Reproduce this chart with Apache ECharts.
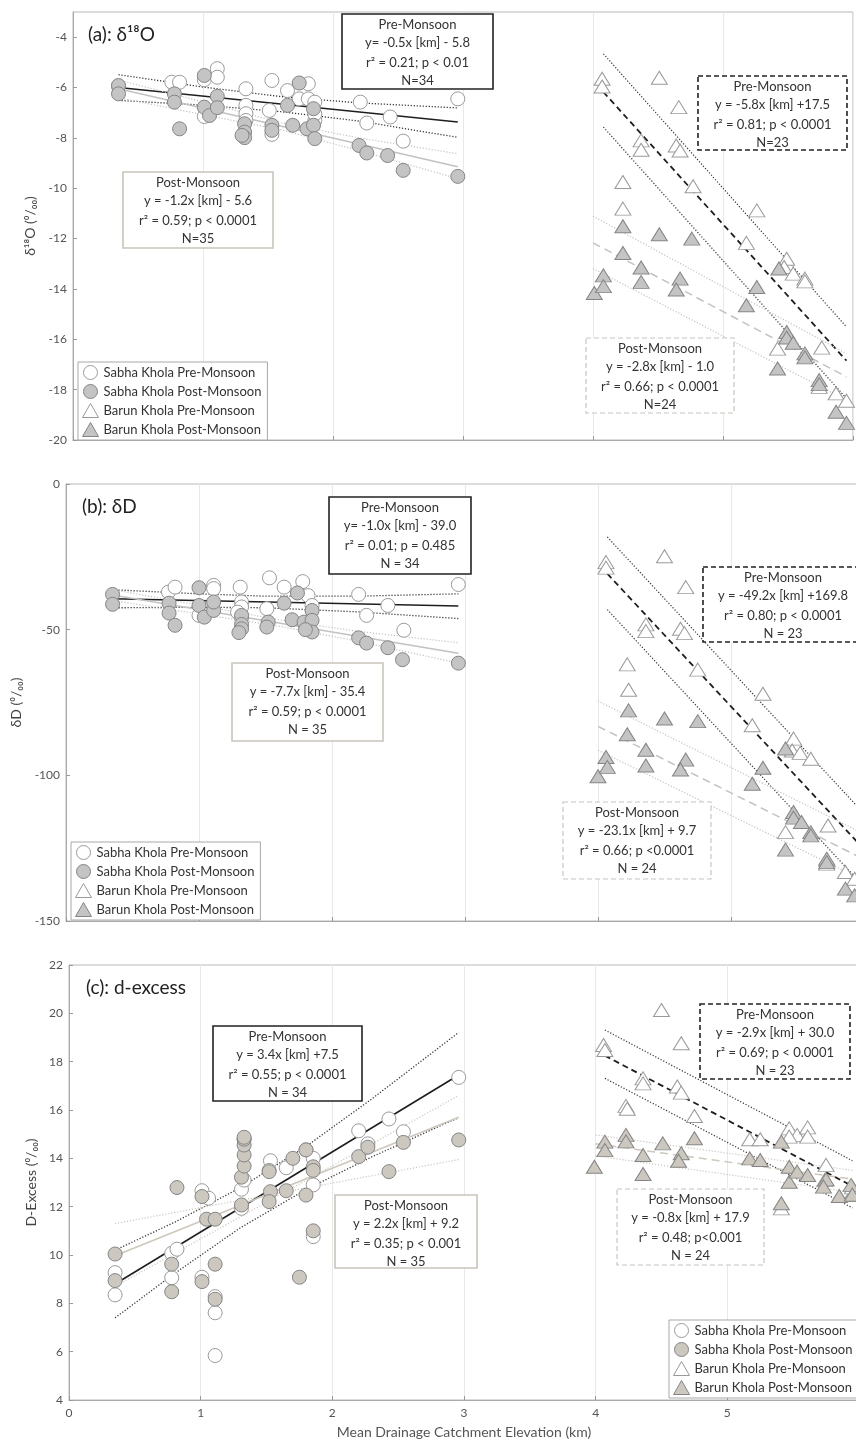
<!DOCTYPE html>
<html><head><meta charset="utf-8">
<script src="https://cdn.jsdelivr.net/npm/echarts@6/dist/echarts.min.js"></script>
<style>html,body{margin:0;padding:0;background:#fff}#c{width:856px;height:1440px}</style>
</head><body><div id="c"></div>
<script>
// ---------------- DATA ----------------
const xTicks = [0,1,2,3,4,5,6];
const seriesNames = ['Sabha Khola Pre-Monsoon','Sabha Khola Post-Monsoon','Barun Khola Pre-Monsoon','Barun Khola Post-Monsoon'];

// Panel (a) δ18O
const aSabhaPre = [[0.35,-5.95],[0.76,-5.79],[0.82,-5.79],[1.01,-5.69],[1.02,-7.04],[1.01,-7.15],[1.11,-5.25],[1.11,-5.59],[1.33,-6.05],[1.33,-6.71],[1.33,-7.04],[1.33,-7.31],[1.53,-5.72],[1.51,-6.91],[1.53,-7.86],[1.65,-6.12],[1.74,-6.45],[1.81,-5.85],[1.81,-6.45],[1.86,-6.58],[1.86,-7.31],[1.86,-7.05],[2.21,-6.58],[2.26,-7.41],[2.44,-7.17],[2.54,-8.13],[2.96,-6.45]];
const aSabhaPost = [[0.35,-5.92],[0.35,-6.25],[0.78,-6.25],[0.78,-6.58],[0.82,-7.64],[1.01,-5.52],[1.01,-6.78],[1.05,-7.11],[1.11,-6.35],[1.11,-6.80],[1.32,-7.44],[1.32,-7.77],[1.32,-7.99],[1.30,-7.90],[1.53,-7.50],[1.53,-7.70],[1.65,-6.71],[1.69,-7.50],[1.74,-5.82],[1.80,-7.64],[1.85,-6.84],[1.85,-7.50],[1.86,-8.03],[2.20,-8.30],[2.26,-8.60],[2.42,-8.70],[2.54,-9.29],[2.96,-9.53]];
const aBarunPre = [[4.07,-5.65],[4.07,-5.96],[4.51,-5.61],[4.66,-6.78],[4.37,-8.10],[4.37,-8.47],[4.64,-8.30],[4.67,-8.50],[4.77,-9.92],[4.23,-9.75],[4.23,-10.81],[5.26,-10.88],[5.18,-12.17],[5.49,-12.80],[5.47,-13.13],[5.54,-13.39],[5.63,-13.59],[5.63,-13.70],[5.42,-16.37],[5.76,-16.33],[5.74,-17.89],[5.87,-18.15],[5.95,-18.44]];
const aBarunPost = [[4.01,-14.16],[4.08,-13.46],[4.08,-13.89],[4.23,-11.51],[4.23,-12.57],[4.37,-13.15],[4.37,-13.72],[4.51,-11.83],[4.67,-13.59],[4.64,-14.02],[4.76,-12.00],[5.26,-13.92],[5.18,-14.65],[5.43,-13.19],[5.49,-15.71],[5.49,-15.93],[5.54,-16.14],[5.63,-16.56],[5.63,-16.72],[5.42,-17.16],[5.74,-17.62],[5.74,-17.78],[5.87,-18.88],[5.95,-19.32]];
const aSabhaPreFit = [[0.35,-6.0],[2.96,-7.37]];
const aSabhaPreHi = [[0.35,-5.49],[1.0,-5.98],[1.6,-6.36],[2.2,-6.61],[2.96,-6.81]];
const aSabhaPreLo = [[0.35,-6.51],[1.0,-6.70],[1.6,-6.96],[2.2,-7.33],[2.96,-7.98]];
const aSabhaPostFit = [[0.35,-6.05],[2.96,-9.15]];
const aSabhaPostHi = [[0.35,-5.70],[1.0,-6.57],[1.6,-7.40],[2.2,-8.0],[2.96,-8.63]];
const aSabhaPostLo = [[0.35,-6.40],[1.0,-7.08],[1.6,-7.68],[2.2,-8.5],[2.96,-9.62]];
const aBarunPreFit = [[4.08,-6.18],[5.95,-16.85]];
const aBarunPreHi = [[4.08,-4.66],[5.95,-15.51]];
const aBarunPreLo = [[4.08,-7.57],[5.95,-18.35]];
const aBarunPostFit = [[4.0,-12.17],[5.95,-17.49]];
const aBarunPostHi = [[4.0,-11.11],[5.95,-16.57]];
const aBarunPostLo = [[4.0,-13.19],[5.95,-18.42]];

// Panel (b) δD
const bSabhaPre = [[0.77,-37.1],[0.82,-35.4],[1.0,-45.1],[1.11,-34.8],[1.11,-35.9],[1.31,-35.4],[1.32,-40.5],[1.32,-42.2],[1.29,-44.0],[1.32,-46.0],[1.53,-32.2],[1.51,-42.8],[1.64,-35.4],[1.78,-33.5],[1.82,-38.3],[1.85,-41.7],[2.20,-37.9],[2.26,-45.1],[2.42,-41.7],[2.54,-50.2],[2.95,-34.5]];
const bSabhaPost = [[0.35,-37.9],[0.35,-41.3],[0.775,-40.9],[0.775,-44.3],[0.82,-48.5],[1.0,-35.6],[1.0,-41.7],[1.04,-45.7],[1.11,-43.4],[1.11,-40.5],[1.32,-45.1],[1.32,-48.2],[1.32,-49.7],[1.30,-51.0],[1.52,-47.4],[1.51,-49.1],[1.64,-40.9],[1.70,-46.6],[1.74,-37.4],[1.79,-47.4],[1.85,-43.4],[1.85,-46.8],[1.85,-50.8],[1.80,-50.0],[2.20,-52.8],[2.26,-54.6],[2.42,-56.2],[2.53,-60.3],[2.95,-61.5]];
const bBarunPre = [[4.06,-26.8],[4.06,-28.7],[4.50,-24.8],[4.66,-35.4],[4.36,-48.2],[4.36,-50.5],[4.62,-49.7],[4.65,-51.2],[4.75,-63.7],[4.22,-61.9],[4.23,-70.6],[5.24,-72.0],[5.16,-82.8],[5.47,-87.4],[5.46,-91.5],[5.52,-92.3],[5.60,-94.3],[5.41,-119.5],[5.73,-117.2],[5.72,-130.3],[5.86,-133.2],[5.93,-135.5],[5.72,-129.0]];
const bBarunPost = [[4.0,-100.3],[4.06,-93.7],[4.07,-97.1],[4.23,-77.7],[4.22,-85.9],[4.36,-91.2],[4.36,-96.6],[4.50,-80.5],[4.66,-94.6],[4.62,-98.0],[4.75,-81.4],[5.24,-97.4],[5.16,-102.9],[5.41,-90.8],[5.47,-112.6],[5.47,-114.5],[5.53,-116.0],[5.60,-119.5],[5.60,-120.6],[5.41,-125.5],[5.72,-128.6],[5.72,-129.8],[5.86,-138.9],[5.93,-141.2]];
const bSabhaPreFit = [[0.35,-39.4],[2.95,-41.9]];
const bSabhaPreHi = [[0.35,-36.3],[1.0,-37.7],[1.5,-38.5],[2.2,-38.5],[2.95,-37.7]];
const bSabhaPreLo = [[0.35,-42.5],[1.0,-42.3],[1.5,-42.5],[2.2,-43.9],[2.95,-46.2]];
const bSabhaPostFit = [[0.35,-38.1],[2.95,-58.1]];
const bSabhaPostHi = [[0.35,-36.2],[1.0,-41.6],[1.6,-46.6],[2.2,-50.6],[2.95,-54.5]];
const bSabhaPostLo = [[0.35,-40.0],[1.0,-44.6],[1.6,-48.8],[2.2,-54.0],[2.95,-61.5]];
const bBarunPreFit = [[4.07,-30.8],[5.95,-122.9]];
const bBarunPreHi = [[4.07,-18.2],[5.95,-110.7]];
const bBarunPreLo = [[4.07,-43.1],[5.95,-135.8]];
const bBarunPostFit = [[4.0,-83.2],[5.95,-127.7]];
const bBarunPostHi = [[4.0,-74.5],[5.95,-119.0]];
const bBarunPostLo = [[4.0,-91.4],[5.95,-135.0]];

// Panel (c) d-excess
const cSabhaPre = [[0.35,9.27],[0.35,8.35],[0.78,10.07],[0.82,10.24],[0.78,9.06],[1.01,12.66],[1.06,12.35],[1.01,9.08],[1.11,8.28],[1.11,7.61],[1.11,5.84],[1.31,12.72],[1.31,11.93],[1.33,13.10],[1.33,14.80],[1.53,13.90],[1.52,13.50],[1.65,13.61],[1.80,14.35],[1.855,14.0],[1.855,12.90],[1.855,10.76],[2.20,15.14],[2.27,14.60],[2.43,15.63],[2.54,15.10],[2.96,17.35]];
const cSabhaPost = [[0.35,10.04],[0.35,8.94],[0.82,12.79],[1.01,12.42],[1.045,11.48],[1.11,11.48],[0.78,9.62],[0.78,8.48],[1.01,8.90],[1.11,9.62],[1.11,8.17],[1.31,12.07],[1.31,13.22],[1.33,13.68],[1.33,14.14],[1.33,14.55],[1.33,14.79],[1.33,14.87],[1.52,13.45],[1.53,12.62],[1.52,12.21],[1.65,12.66],[1.70,14.0],[1.75,9.08],[1.80,14.35],[1.80,12.48],[1.855,13.65],[1.855,13.50],[1.855,11.0],[2.20,14.07],[2.27,14.46],[2.43,13.45],[2.54,14.66],[2.96,14.76]];
const cBarunPre = [[4.06,18.69],[4.07,18.48],[4.50,20.14],[4.65,18.76],[4.36,17.31],[4.36,17.10],[4.62,16.97],[4.65,16.72],[4.75,15.75],[4.23,16.17],[4.24,16.05],[5.17,14.79],[5.25,14.79],[5.47,15.24],[5.53,14.97],[5.61,15.28],[5.61,14.90],[5.47,14.90],[5.75,13.73],[5.74,13.10],[5.41,11.93],[5.94,12.48],[5.95,12.80]];
const cBarunPost = [[3.99,13.65],[4.07,14.69],[4.07,14.34],[4.23,14.97],[4.23,14.70],[4.36,14.14],[4.36,13.35],[4.51,14.62],[4.65,14.21],[4.63,13.90],[4.75,14.83],[5.17,14.0],[5.25,13.93],[5.41,14.69],[5.47,13.65],[5.47,13.03],[5.53,13.45],[5.61,13.31],[5.41,12.14],[5.75,13.13],[5.73,12.83],[5.85,12.44],[5.94,12.90],[5.95,12.50]];
const cSabhaPreFit = [[0.35,8.8],[2.96,17.45]];
const cSabhaPreHi = [[0.35,10.20],[0.8,11.35],[1.3,12.78],[1.8,14.49],[2.3,16.46],[2.96,19.21]];
const cSabhaPreLo = [[0.35,7.40],[0.8,9.23],[1.3,11.12],[1.8,12.71],[2.3,14.06],[2.96,15.69]];
const cSabhaPostFit = [[0.35,9.97],[2.96,15.7]];
const cSabhaPostHi = [[0.35,11.3],[2.96,13.95]];
const cSabhaPostLo = [[0.35,8.7],[2.96,16.6]];
const cBarunPreFit = [[4.07,18.25],[5.95,12.85]];
const cBarunPreHi = [[4.07,19.31],[5.95,13.9]];
const cBarunPreLo = [[4.07,17.31],[5.95,11.95]];
const cBarunPostFit = [[4.0,14.6],[5.95,13.14]];
const cBarunPostHi = [[4.0,14.97],[5.95,13.5]];
const cBarunPostLo = [[4.0,14.1],[5.95,12.6]];

// ---------------- CHART ----------------
const FONT = 'Lato, "Noto Sans", "DejaVu Sans", sans-serif';
const chart = echarts.init(document.getElementById('c'), null, {renderer:'canvas'});

const WHITE = '#ffffff', WB = '#9a9a9a', GREY = '#c4c4c4', BEIGE = '#ccc8c0', GB = '#858585';
const LGREY = '#c2c2c2', LBEIGE = '#cdc7bc', BLK = '#1e1e1e';

const grids = [
  {left:73, top:12, width:780, height:428, show:true, borderColor:'#b8b8b8', borderWidth:1, outerBoundsMode:'none', containLabel:false},
  {left:66, top:484, width:798, height:437, show:true, borderColor:'#b8b8b8', borderWidth:1, outerBoundsMode:'none', containLabel:false},
  {left:69, top:965, width:790, height:435, show:true, borderColor:'#b8b8b8', borderWidth:1, outerBoundsMode:'none', containLabel:false}
];
const xAxes = grids.map((g,i)=>({
  type:'value', gridIndex:i, min:xTicks[0], max:xTicks[xTicks.length-1], interval:1,
  axisLine:{show:true, onZero:false, lineStyle:{color:'#aaa'}},
  axisTick:{show:true, inside:true, length:4, lineStyle:{color:'#999'}},
  splitLine:{show:true, lineStyle:{color:'#e8e8e8', width:1}},
  axisLabel:{show:i===2, color:'#555', fontSize:12, fontFamily:FONT, margin:7},
  name: i===2 ? 'Mean Drainage Catchment Elevation (km)' : '',
  nameLocation:'middle', nameGap:25,
  nameTextStyle:{color:'#555', fontSize:14, fontFamily:FONT}
}));
const yCommon = {
  type:'value', axisLine:{show:true, onZero:false, lineStyle:{color:'#aaa'}},
  axisTick:{show:true, inside:true, length:4, lineStyle:{color:'#999'}},
  splitLine:{show:false}, nameLocation:'middle', nameRotate:90,
  nameTextStyle:{color:'#444', fontSize:14, fontFamily:FONT}
};
const yAxes = [
  Object.assign({}, yCommon, {gridIndex:0, min:-20, max:-3, interval:2, name:'δ¹⁸O (⁰/₀₀)', nameGap:30,
    axisLabel:{color:'#555', fontSize:12, fontFamily:FONT, margin:6, showMaxLabel:false}}),
  Object.assign({}, yCommon, {gridIndex:1, min:-150, max:0, interval:50, name:'δD (⁰/₀₀)', nameGap:33,
    axisLabel:{color:'#555', fontSize:12, fontFamily:FONT, margin:6}}),
  Object.assign({}, yCommon, {gridIndex:2, min:4, max:22, interval:2, name:'D-Excess (⁰/₀₀)', nameGap:26,
    axisLabel:{color:'#555', fontSize:12, fontFamily:FONT, margin:6}})
];

function sc(name, data, gi, symbol, fill, border){
  return {type:'scatter', name, data, xAxisIndex:gi, yAxisIndex:gi, symbol,
    symbolSize: symbol==='triangle' ? [16,13] : 14,
    itemStyle:{color:fill, borderColor:border, borderWidth:1, opacity:1}, z:3, silent:true};
}
function ln(data, gi, color, type, width){
  return {type:'line', data, xAxisIndex:gi, yAxisIndex:gi, showSymbol:false, symbol:'none',
    lineStyle:{color, type, width}, silent:true, z:2, animation:false};
}
const DOT = [1.2,1.8], DASH = [6,4], LDASH = [8,5];
const series = [];
const panels = [
  {s:[aSabhaPre,aSabhaPost,aBarunPre,aBarunPost], fill:GREY, lc:LGREY,
   l:[aSabhaPreFit,aSabhaPreHi,aSabhaPreLo,aSabhaPostFit,aSabhaPostHi,aSabhaPostLo,aBarunPreFit,aBarunPreHi,aBarunPreLo,aBarunPostFit,aBarunPostHi,aBarunPostLo]},
  {s:[bSabhaPre,bSabhaPost,bBarunPre,bBarunPost], fill:GREY, lc:LGREY,
   l:[bSabhaPreFit,bSabhaPreHi,bSabhaPreLo,bSabhaPostFit,bSabhaPostHi,bSabhaPostLo,bBarunPreFit,bBarunPreHi,bBarunPreLo,bBarunPostFit,bBarunPostHi,bBarunPostLo]},
  {s:[cSabhaPre,cSabhaPost,cBarunPre,cBarunPost], fill:BEIGE, lc:LBEIGE,
   l:[cSabhaPreFit,cSabhaPreHi,cSabhaPreLo,cSabhaPostFit,cSabhaPostHi,cSabhaPostLo,cBarunPreFit,cBarunPreHi,cBarunPreLo,cBarunPostFit,cBarunPostHi,cBarunPostLo]}
];
panels.forEach((p,gi)=>{
  const L = p.l;
  series.push(ln(L[0],gi,BLK,'solid',1.6), ln(L[1],gi,'#333',DOT,1.3), ln(L[2],gi,'#333',DOT,1.3));
  series.push(ln(L[3],gi,p.lc,'solid',1.6), ln(L[4],gi,p.lc,DOT,1.2), ln(L[5],gi,p.lc,DOT,1.2));
  series.push(ln(L[6],gi,BLK,DASH,1.8), ln(L[7],gi,'#333',DOT,1.2), ln(L[8],gi,'#333',DOT,1.2));
  series.push(ln(L[9],gi,p.lc,LDASH,1.5), ln(L[10],gi,p.lc,DOT,1.2), ln(L[11],gi,p.lc,DOT,1.2));
  series.push(sc(seriesNames[0],p.s[0],gi,'circle',WHITE,WB));
  series.push(sc(seriesNames[1],p.s[1],gi,'circle',p.fill,GB));
  series.push(sc(seriesNames[2],p.s[2],gi,'triangle',WHITE,WB));
  series.push(sc(seriesNames[3],p.s[3],gi,'triangle',p.fill,GB));
});

function legendAt(left, top, fill){
  return {
    left, top, orient:'vertical', itemGap:4, itemWidth:16, itemHeight:14,
    padding:[3,6,3,4], borderColor:'#a8a8a8', borderWidth:1, backgroundColor:'#fff',
    textStyle:{color:'#333', fontSize:13, fontFamily:FONT}, selectedMode:false, z:20,
    data:[
      {name:seriesNames[0], icon:'circle', itemStyle:{color:WHITE, borderColor:WB, borderWidth:1}},
      {name:seriesNames[1], icon:'circle', itemStyle:{color:fill, borderColor:GB, borderWidth:1}},
      {name:seriesNames[2], icon:'triangle', itemStyle:{color:WHITE, borderColor:WB, borderWidth:1}},
      {name:seriesNames[3], icon:'triangle', itemStyle:{color:fill, borderColor:GB, borderWidth:1}}
    ]
  };
}

const graphics = [];
function box(x,y,w,h,stroke,dash,lw,lines){
  graphics.push({type:'rect', z:100, shape:{x,y,width:w,height:h},
    style:{fill:'#fff', stroke, lineWidth:lw, lineDash:dash||null}});
  const offs = [11,29,49,67];
  lines.forEach((t,i)=>graphics.push({type:'text', z:101, x:x+w/2, y:y+offs[i],
    style:{text:t, fill:'#333', font:'13px '+FONT, align:'center', verticalAlign:'middle',
      textAlign:'center', textVerticalAlign:'middle'}}));
}
const BB = '#c9c5bd';
box(342,14,151,75,'#222',null,1.6,['Pre-Monsoon','y= -0.5x [km] - 5.8','r² = 0.21; p < 0.01','N=34']);
box(123,172,150,76,BB,null,1.6,['Post-Monsoon','y = -1.2x [km] - 5.6','r² = 0.59; p < 0.0001','N=35']);
box(698,76,149,74,'#222',[5,3],1.6,['Pre-Monsoon','y = -5.8x [km] +17.5','r² = 0.81; p < 0.0001','N=23']);
box(586,338,148,75,BB,[5,3],1.2,['Post-Monsoon','y = -2.8x [km] - 1.0','r² = 0.66; p < 0.0001','N=24']);
box(329,497,142,77,'#222',null,1.6,['Pre-Monsoon','y= -1.0x [km] - 39.0','r² = 0.01; p = 0.485','N = 34']);
box(232,663,151,78,BB,null,1.6,['Post-Monsoon','y = -7.7x [km] - 35.4','r² = 0.59; p < 0.0001','N = 35']);
box(703,567,160,75,'#222',[5,3],1.6,['Pre-Monsoon','y = -49.2x [km] +169.8','r² = 0.80; p < 0.0001','N = 23']);
box(563,802,148,77,BB,[5,3],1.2,['Post-Monsoon','y = -23.1x [km] + 9.7','r² = 0.66; p <0.0001','N = 24']);
box(213,1026,149,75,'#222',null,1.6,['Pre-Monsoon','y = 3.4x [km] +7.5','r² = 0.55; p < 0.0001','N = 34']);
box(335,1195,142,73,BB,null,1.6,['Post-Monsoon','y = 2.2x [km] + 9.2','r² = 0.35; p < 0.001','N = 35']);
box(700,1004,150,75,'#222',[5,3],1.6,['Pre-Monsoon','y = -2.9x [km] + 30.0','r² = 0.69; p < 0.0001','N = 23']);
box(617,1189,147,76,BB,[5,3],1.2,['Post-Monsoon','y = -0.8x [km] + 17.9','r² = 0.48; p<0.001','N = 24']);

[['(a): δ¹⁸O',88,35],['(b): δD',82,507],['(c): d-excess',86,988]].forEach(([t,x,y])=>{
  graphics.push({type:'text', z:101, x, y, style:{text:t, fill:'#222', font:'19px '+FONT,
    align:'left', verticalAlign:'middle', textAlign:'left', textVerticalAlign:'middle'}});
});

chart.setOption({
  animation:false,
  backgroundColor:'#fff',
  grid:grids, xAxis:xAxes, yAxis:yAxes,
  legend:[legendAt(78,362,GREY), legendAt(71,842,GREY), legendAt(669,1320,BEIGE)],
  series, graphic:graphics
});
</script></body></html>
